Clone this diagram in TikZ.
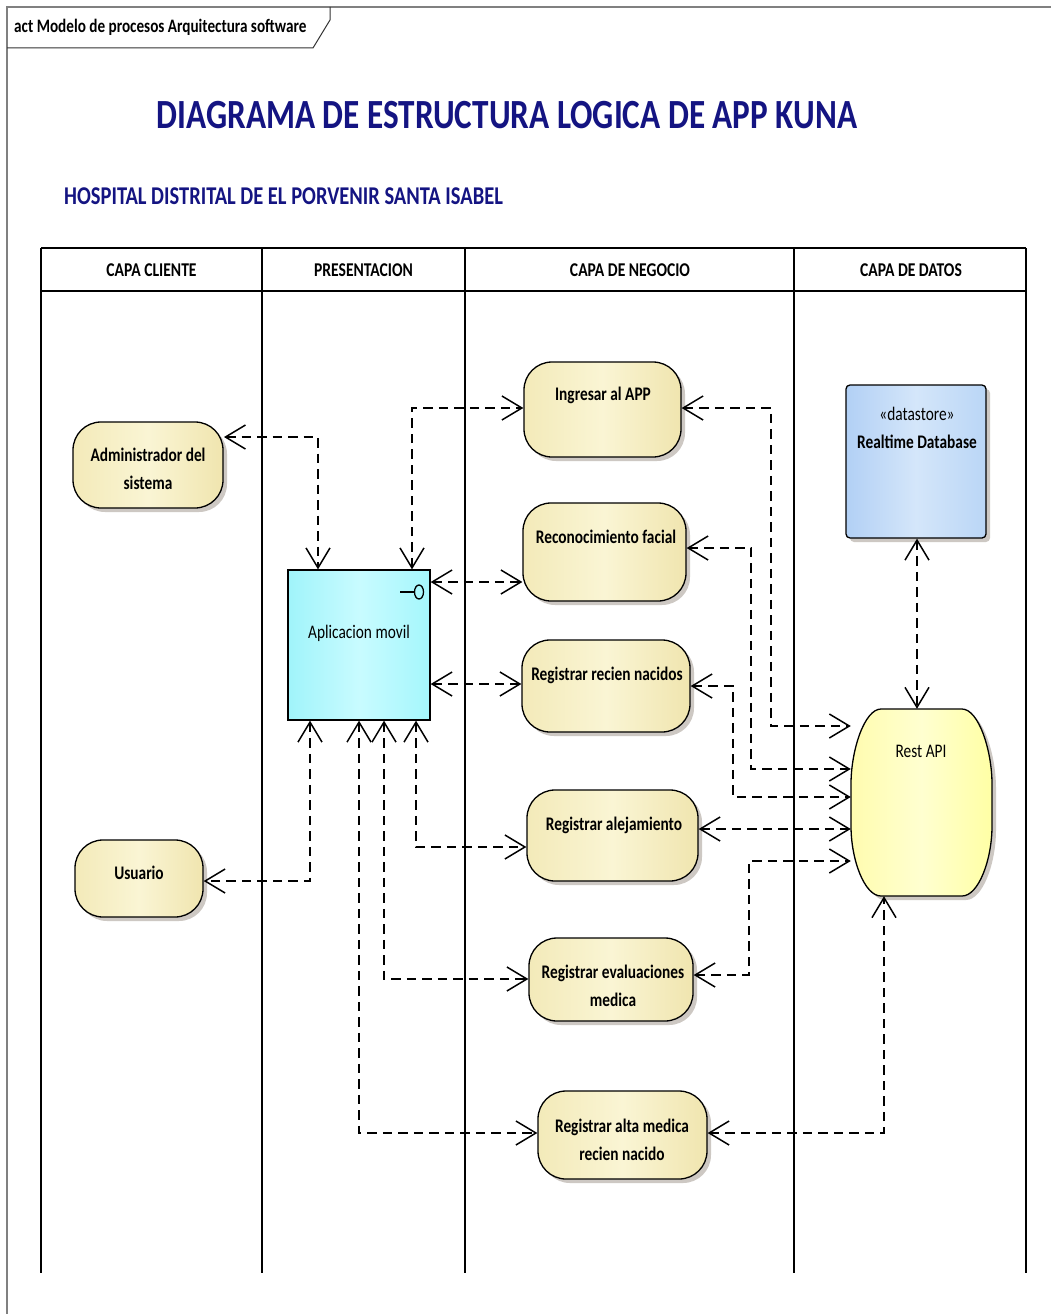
\documentclass[tikz,border=0pt]{standalone}
\usepackage{fontspec}
\setmainfont{Carlito}[FakeStretch=0.8]
\usetikzlibrary{arrows.meta,shadows}
\definecolor{actL}{RGB}{243,234,185}
\definecolor{actM}{RGB}{250,245,212}
\definecolor{actR}{RGB}{240,229,175}
\definecolor{appL}{RGB}{160,244,250}
\definecolor{appM}{RGB}{200,251,255}
\definecolor{appR}{RGB}{165,247,252}
\definecolor{dbL}{RGB}{178,208,245}
\definecolor{dbM}{RGB}{212,230,250}
\definecolor{dbR}{RGB}{186,214,246}
\definecolor{apiL}{RGB}{255,252,175}
\definecolor{apiM}{RGB}{255,255,208}
\definecolor{apiR}{RGB}{255,255,165}
\definecolor{titleblue}{RGB}{20,20,130}
\definecolor{shadowgray}{RGB}{205,200,195}
\tikzset{
  shad/.style={drop shadow={shadow xshift=4pt,shadow yshift=-4pt,fill=shadowgray,opacity=1}},
  actbox/.style={draw=black,line width=1.3pt,rounded corners=28pt,shading=axis,
    left color=actL,right color=actR,middle color=actM,shad},
  appbox/.style={draw=black,line width=1.3pt,shading=axis,left color=appL,right color=appR,middle color=appM},
  dbbox/.style={draw=black,line width=1.3pt,rounded corners=4pt,shading=axis,left color=dbL,right color=dbR,middle color=dbM,shad},
  txt/.style={font=\fontsize{19.2}{28}\selectfont\bfseries,align=center,inner sep=0pt},
  txtr/.style={font=\fontsize{19.2}{28}\selectfont,align=center,inner sep=0pt},
  hdr/.style={font=\fontsize{19.5}{22}\selectfont\bfseries,inner sep=0pt},
  lane/.style={line width=1.8pt},
  conn/.style={line width=1.5pt,dash pattern=on 9.5pt off 6pt,{Straight Barb[length=20pt,width=24pt]}-{Straight Barb[length=20pt,width=24pt]}},
}
\begin{document}
\begin{tikzpicture}[x=1pt,y=-1pt]
\useasboundingbox (0,0) rectangle (1051,1314);
\fill[white] (0,0) rectangle (1051,1314);
% frame
\draw[gray,line width=1.2pt] (7,1314) -- (7,7) -- (1051,7);
\draw[black!80,line width=1pt] (7,48) -- (313,48) -- (330,20) -- (330,7);
\node[anchor=west,inner sep=0pt,font=\fontsize{19}{21}\selectfont\bfseries] (frm) at (14,27) {act Modelo de procesos Arquitectura software};
% titles
\node[font=\fontsize{41.5}{46}\selectfont\bfseries,text=titleblue,inner sep=0pt] (ttl) at (507,115) {DIAGRAMA DE ESTRUCTURA LOGICA DE APP KUNA};
\node[anchor=west,font=\fontsize{25.6}{28}\selectfont\bfseries,text=titleblue,inner sep=0pt] (sub) at (64,196) {HOSPITAL DISTRITAL DE EL PORVENIR SANTA ISABEL};
% lanes
\draw[lane] (41,291) -- (1026,291);
\draw[line width=2.6pt] (41,248) -- (1026,248);
\foreach \x in {41,262,465,794,1026} \draw[lane] (\x,248) -- (\x,1273);
\node[hdr] (h1) at (151.5,270) {CAPA CLIENTE};
\node[hdr] (h2) at (363.5,270) {PRESENTACION};
\node[hdr] (h3) at (630,270) {CAPA DE NEGOCIO};
\node[hdr] (h4) at (911,270) {CAPA DE DATOS};
% nodes
\node[actbox,minimum width=150pt,minimum height=86pt] (adm) at (148,465) {};
\node[actbox,minimum width=128pt,minimum height=77pt] (usr) at (139,878.5) {};
\node[appbox,minimum width=142pt,minimum height=150pt] (app) at (359,645) {};
\node[actbox,minimum width=157pt,minimum height=95pt] (ing) at (602.5,409.5) {};
\node[actbox,minimum width=163pt,minimum height=98pt] (rec) at (604.5,552) {};
\node[actbox,minimum width=168pt,minimum height=92pt] (rn) at (606,686) {};
\node[actbox,minimum width=171pt,minimum height=91pt] (ale) at (612.5,835.5) {};
\node[actbox,minimum width=164pt,minimum height=83pt] (eva) at (611,979.5) {};
\node[actbox,minimum width=169pt,minimum height=88pt] (alta) at (622.5,1135) {};
\node[dbbox,minimum width=140pt,minimum height=153pt] (db) at (916,461.5) {};
\node[minimum width=141pt,minimum height=187pt,inner sep=0pt] (api) at (921.5,802.5) {};
% Rest API shape
\fill[shadowgray] (885,713) -- (966,713) .. controls (982.6,713) and (996,754.4) .. (996,788) -- (996,830) .. controls (996,863.6) and (982.6,900) .. (966,900) -- (885,900) .. controls (868.4,900) and (855,863.6) .. (855,830) -- (855,788) .. controls (855,754.4) and (868.4,713) .. (885,713) -- cycle;
\shade[left color=apiL,right color=apiR,middle color=apiM,draw=black,line width=1.3pt] (881,709) -- (962,709) .. controls (978.6,709) and (992,750.4) .. (992,784) -- (992,826) .. controls (992,859.6) and (978.6,896) .. (962,896) -- (881,896) .. controls (864.4,896) and (851,859.6) .. (851,826) -- (851,784) .. controls (851,750.4) and (864.4,709) .. (881,709) -- cycle;
% interface symbol
\draw[line width=1.3pt] (400,592) -- (414,592);
\draw[line width=1.3pt] (419,592) ellipse [x radius=4.5pt,y radius=7pt];
% labels
\node[txt] (tadm) at (148,469) {Administrador del\\sistema};
\node[txt] (tusr) at (139,873) {Usuario};
\node[txtr] (tapp) at (359,633) {Aplicacion movil};
\node[txt] (ting) at (603,395) {Ingresar al APP};
\node[txt] (trec) at (606,537) {Reconocimiento facial};
\node[txt] (trn) at (607,675) {Registrar recien nacidos};
\node[txt] (tale) at (614,825) {Registrar alejamiento};
\node[txt] (teva) at (613,986) {Registrar evaluaciones\\medica};
\node[txt] (talta) at (622,1140) {Registrar alta medica\\recien nacido};
\node[txtr] (tds) at (917,414) {«datastore»};
\node[txt] (tdb) at (917,442) {Realtime Database};
\node[txtr] (tapi) at (921,751) {Rest API};
% connectors
\draw[conn] (224,437) -| (app.north -| 318,0);
\draw[conn] (app.north -| 412,0) |- (ing.west |- 0,408);
\draw[conn] (app.east |- 0,582) -- (rec.west |- 0,582);
\draw[conn] (app.east |- 0,684) -- (rn.west |- 0,684);
\draw[conn] (app.south -| 416,0) |- (ale.west |- 0,847);
\draw[conn] (app.south -| 310,0) |- (usr.east |- 0,881);
\draw[conn] (app.south -| 384,0) |- (eva.west |- 0,979);
\draw[conn] (app.south -| 359,0) |- (alta.west |- 0,1133);
\draw[conn] (ing.east |- 0,408) -- (771,408) -- (771,726) -- (api.west |- 0,726);
\draw[conn] (rec.east |- 0,548) -- (751,548) -- (751,769) -- (api.west |- 0,769);
\draw[conn] (rn.east |- 0,686) -- (733,686) -- (733,797) -- (api.west |- 0,797);
\draw[conn] (ale.east |- 0,829) -- (api.west |- 0,829);
\draw[conn] (eva.east |- 0,975) -- (749,975) -- (749,861) -- (api.west |- 0,861);
\draw[conn] (alta.east |- 0,1133) -| (api.south -| 884,0);
\draw[conn] (db.south -| 917,0) -- (api.north -| 917,0);
\end{tikzpicture}
\end{document}
